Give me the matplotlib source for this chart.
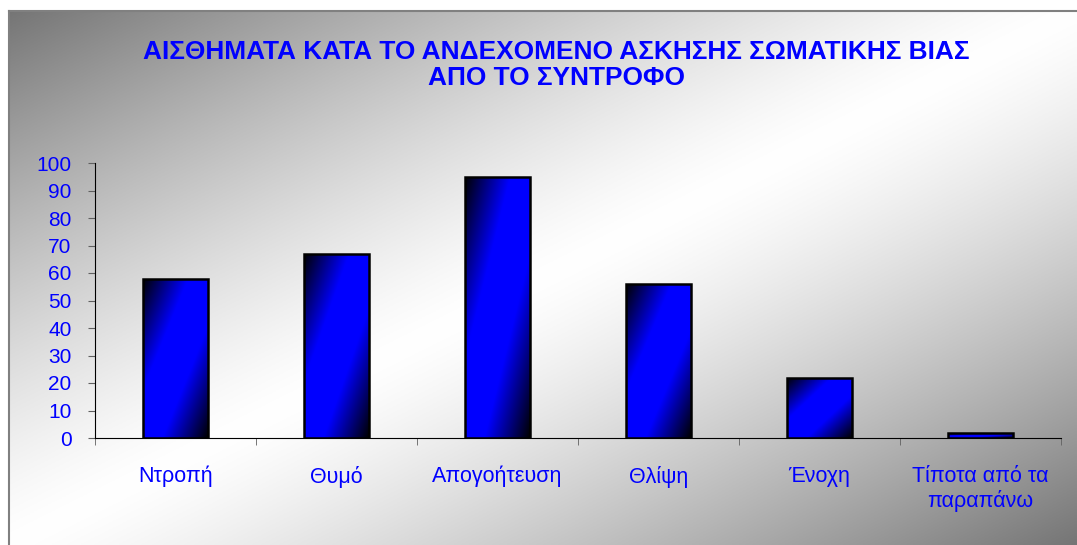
import matplotlib.pyplot as plt
import numpy as np

plt.rcParams['font.family'] = ['Liberation Sans', 'DejaVu Sans']

# Δεδομένα
kathgories = ["Ντροπή", "Θυμό", "Απογοήτευση", "Θλίψη", "Ένοχη", "Τίποτα από τα\nπαραπάνω"]
times = [58, 67, 95, 56, 22, 2]
titlos = "ΑΙΣΘΗΜΑΤΑ ΚΑΤΑ ΤΟ ΑΝΔΕΧΟΜΕΝΟ ΑΣΚΗΣΗΣ ΣΩΜΑΤΙΚΗΣ ΒΙΑΣ\nΑΠΟ ΤΟ ΣΥΝΤΡΟΦΟ"
yticks = list(range(0, 101, 10))

W, H = 1077, 545
fig = plt.figure(figsize=(W / 100, H / 100), dpi=100)
fig.patch.set_facecolor('white')

# Διαγώνια διαβάθμιση (σκούρο πάνω-αριστερά και κάτω-δεξιά, ανοιχτό στη μέση)
u, v = np.meshgrid(np.linspace(0, 1, 300), np.linspace(0, 1, 300))
t = np.abs(u + v - 1)

# Φόντο
bg = fig.add_axes([9 / W, 0, 1 - 9 / W, (H - 11) / H])
gray = 1 - 0.54 * t ** 1.3
bg.imshow(np.dstack([gray, gray, gray]), extent=(0, 1, 0, 1), aspect='auto', origin='upper')
bg.set_xlim(0, 1)
bg.set_ylim(0, 1)
bg.set_xticks([])
bg.set_yticks([])
for s in ['right', 'bottom']:
    bg.spines[s].set_visible(False)
bg.spines['top'].set_color('#808080')
bg.spines['left'].set_color('#808080')
bg.spines['top'].set_linewidth(1.5)
bg.spines['left'].set_linewidth(1.5)

# Κύριο διάγραμμα
ax = fig.add_axes([95 / W, (H - 438) / H, (1061 - 95) / W, (438 - 163) / H])
ax.set_facecolor('none')
x = np.arange(len(kathgories))
bars = ax.bar(x, times, width=0.4, facecolor='none', edgecolor='black', linewidth=1.8, zorder=3)

b_int = np.clip((1 - t) / 0.7, 0, 1)
blue = np.dstack([np.zeros_like(t), np.zeros_like(t), b_int])
for b in bars:
    x0, w, h = b.get_x(), b.get_width(), b.get_height()
    im = ax.imshow(blue, extent=(x0, x0 + w, 0, h), aspect='auto', origin='upper', zorder=2)
    im.set_clip_path(b)

ax.set_xlim(-0.5, len(kathgories) - 0.5)
ax.set_ylim(0, 100)
ax.set_yticks(yticks)
ax.set_xticks(x)
ax.set_xticklabels(kathgories)
ax.set_xticks(np.arange(-0.5, len(kathgories)), minor=True)
ax.tick_params(axis='x', which='major', length=0, pad=20, labelsize=15.5, labelcolor='#0000ff')
ax.tick_params(axis='x', which='minor', length=5, color='#606060', direction='out')
ax.tick_params(axis='y', length=5, color='#606060', pad=12, labelsize=15, labelcolor='#0000ff')

ax.spines['top'].set_visible(False)
ax.spines['right'].set_visible(False)
ax.spines['left'].set_color('black')
ax.spines['bottom'].set_color('black')

fig.text(556 / W, 1 - 65 / H, titlos, ha='center', va='center', fontsize=18.9,
         fontweight='bold', color='#0000ff', linespacing=1.15)

fig.savefig("out.png", dpi=100)
